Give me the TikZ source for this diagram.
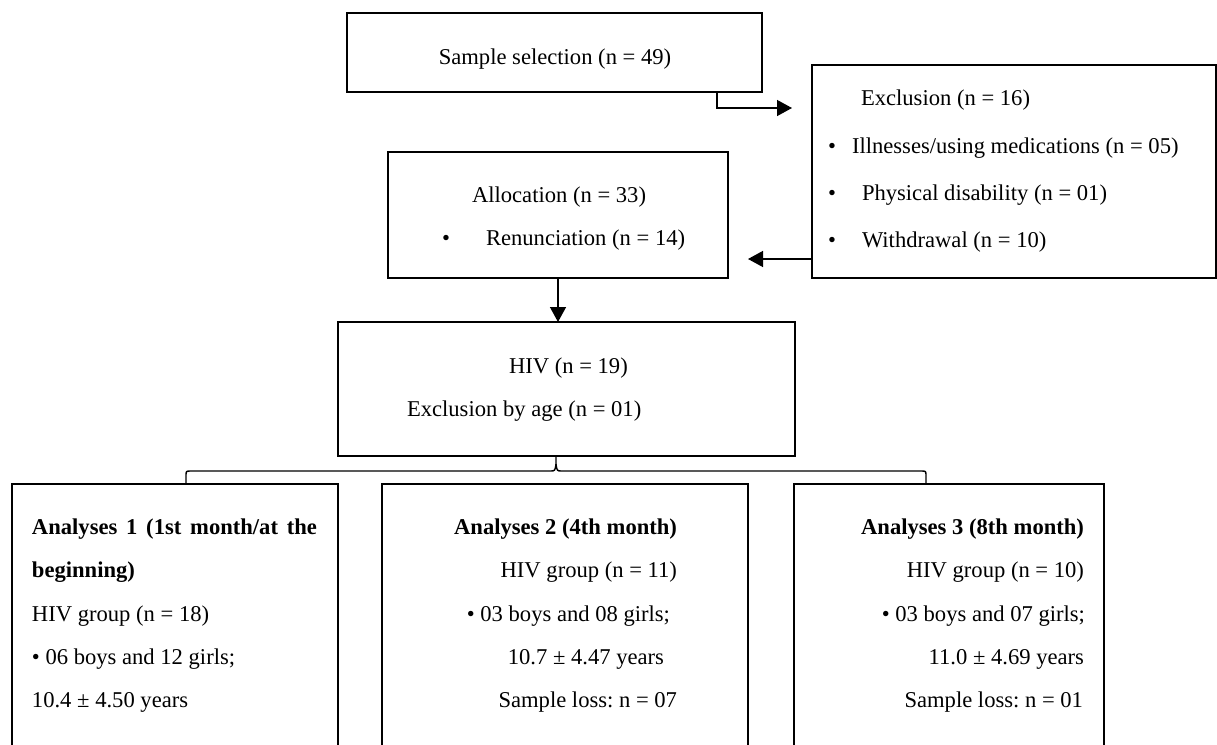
\documentclass[tikz,border=0pt]{standalone}
\usepackage{fontspec}
\setmainfont{Liberation Serif}
\frenchspacing
\usetikzlibrary{arrows.meta}
\begin{document}
\begin{tikzpicture}[x=0.5pt,y=-0.5pt,
  box/.style={draw, line width=0.8pt, inner sep=0pt, outer sep=0pt},
  txt/.style={inner sep=0pt, outer sep=0pt, font=\fontsize{11.3}{13}\selectfont},
  conn/.style={line width=0.7pt},
  arr/.style={conn, -{Triangle[length=7.5pt,width=8pt]}}]
\useasboundingbox (0,0) rectangle (1217,745);
\clip (0,0) rectangle (1217,745);
% boxes
\node[box, line width=1pt, minimum width=207.5pt, minimum height=39.5pt] (sample) at (554.5,52.5) {};
\node[box, minimum width=202pt, minimum height=106.5pt] (excl) at (1014,171.5) {};
\node[box, minimum width=170pt, minimum height=63pt] (alloc) at (558,215) {};
\node[box, minimum width=228.5pt, minimum height=67pt] (hiv) at (566.5,389) {};
\node[box, minimum width=163pt, minimum height=143pt] (a1) at (175,627) {};
\node[box, minimum width=183pt, minimum height=143pt] (a2) at (565,627) {};
\node[box, minimum width=155pt, minimum height=143pt] (a3) at (949,627) {};
% texts
\node[txt, anchor=base] (tsample) at (555,64) {Sample selection (n = 49)};
\node[txt, anchor=base west] (te0) at (861,105) {Exclusion (n = 16)};
\node[txt, anchor=base west] (tb1) at (828,153) {•};
\node[txt, anchor=base west] (te1) at (852,153) {Illnesses/using medications (n = 05)};
\node[txt, anchor=base west] (tb2) at (828,200) {•};
\node[txt, anchor=base west] (te2) at (862,200) {Physical disability (n = 01)};
\node[txt, anchor=base west] (tb3) at (828,247) {•};
\node[txt, anchor=base west] (te3) at (862,247) {Withdrawal (n = 10)};
\node[txt, anchor=base west] (ta0) at (472,202) {Allocation (n = 33)};
\node[txt, anchor=base west] (tb4) at (442,245) {•};
\node[txt, anchor=base west] (ta1) at (486,245) {Renunciation (n = 14)};
\node[txt, anchor=base west] (th0) at (509,373) {HIV (n = 19)};
\node[txt, anchor=base west] (th1) at (407,416) {Exclusion by age (n = 01)};
% analyses 1
\node[txt, anchor=base west] (p1) at (32,534) {\makebox[142.5pt][s]{\bfseries Analyses 1 (1st month/at the}};
\node[txt, anchor=base west] (p2) at (32,577) {\bfseries beginning)};
\node[txt, anchor=base west] (p3) at (32,621) {HIV group (n = 18)};
\node[txt, anchor=base west] (p4) at (32,664) {• 06 boys and 12 girls;};
\node[txt, anchor=base west] (p5) at (32,707) {10.4 ± 4.50 years};
% analyses 2
\node[txt, anchor=base east] (q1) at (677,534) {\bfseries Analyses 2 (4th month)};
\node[txt, anchor=base east] (q2) at (677,577) {HIV group (n = 11)};
\node[txt, anchor=base east] (q3) at (670,621) {• 03 boys and 08 girls;};
\node[txt, anchor=base east] (q4) at (664,664) {10.7 ± 4.47 years};
\node[txt, anchor=base east] (q5) at (677,707) {Sample loss: n = 07};
% analyses 3
\node[txt, anchor=base east] (r1) at (1084,534) {\bfseries Analyses 3 (8th month)};
\node[txt, anchor=base east] (r2) at (1084,577) {HIV group (n = 10)};
\node[txt, anchor=base east] (r3) at (1085,621) {• 03 boys and 07 girls;};
\node[txt, anchor=base east] (r4) at (1084,664) {11.0 ± 4.69 years};
\node[txt, anchor=base east] (r5) at (1083,707) {Sample loss: n = 01};
% connectors
\path (sample.south) ++(162.5,0) coordinate (s1);
\coordinate (t1) at (792,108);
\draw[arr] (s1) |- (t1);
\coordinate (t2) at (748,259);
\draw[arr] (excl.west |- t2) -- (t2);
\draw[arr] (alloc.south) -- (alloc.south |- hiv.north);
% bracket
\coordinate (notch) at (556,456);
\coordinate (bL) at (186,484);
\coordinate (bR) at (926,484);
\draw[conn] (bL) -- (186,476) .. controls (186,471) .. (191,471) -- (550,471) .. controls (555,471) .. (556,464) -- (notch);
\draw[conn] (556,464) .. controls (557,471) .. (562,471) -- (921,471) .. controls (926,471) .. (926,476) -- (bR);
\end{tikzpicture}
\end{document}
